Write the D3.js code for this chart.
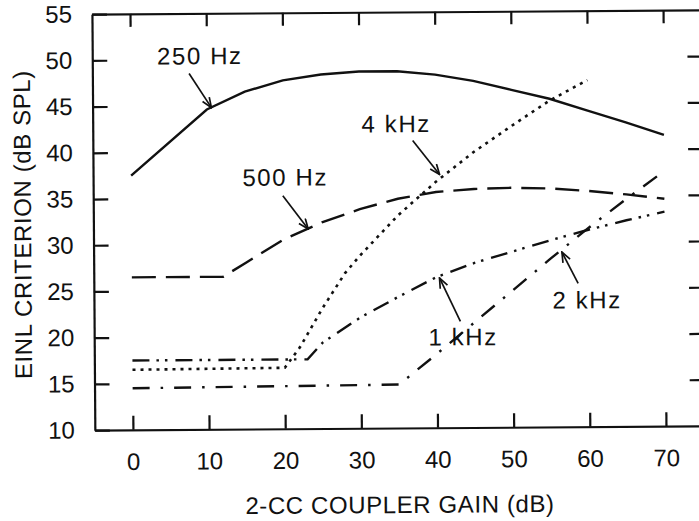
<!DOCTYPE html>
<html>
<head>
<meta charset="utf-8">
<script src="https://cdn.jsdelivr.net/npm/d3@7"></script>
<style>
  body { margin: 0; background: #fff; }
  text { font-family: "Liberation Sans", Arial, sans-serif; fill: #111; }
</style>
</head>
<body>
<svg id="chart" width="699" height="521"></svg>
<script>
// data: [coupler gain dB, EINL criterion dB SPL]
var hz250 = [[0,37.5],[10,44.6],[15,46.5],[20,47.7],[25,48.3],[30,48.6],[35,48.6],[40,48.2],[45,47.5],[50,46.5],[55,45.5],[60,44.2],[65,42.9],[70,41.5]];
var hz500 = [[0,26.5],[12,26.5],[15,28],[20,30.5],[25,32.3],[30,33.7],[35,34.8],[40,35.5],[45,35.8],[50,35.9],[55,35.8],[60,35.5],[65,35.1],[70,34.6]];
var khz4 = [[0,16.5],[20,16.6],[22,18.8],[25,23],[28,26.8],[30,28.7],[35,33],[40,36.6],[45,39.8],[50,42.6],[55,45.3],[60,47.5]];
var khz1 = [[0,17.5],[23,17.5],[25,19.3],[30,22],[35,24.2],[40,26.3],[45,27.8],[50,29],[55,30.2],[60,31.3],[65,32.3],[70,33.2]];
var khz2 = [[0,14.5],[35,14.7],[40,18],[45,21.4],[50,24.8],[55,28.2],[60,31.5],[65,34.6],[70,37.6]];

var xTicks = [0,10,20,30,40,50,60,70];
var yTicks = [10,15,20,25,30,35,40,45,50,55];

// label text, text anchor and arrow (tail -> head) in data units
var labels = [
  {text:'250 Hz', at:[3.5,49.5], from:[7.7,48.5], to:[10.6,44.8]},
  {text:'500 Hz', at:[14.6,36.3], from:[19.9,35.2], to:[23.2,31.6]},
  {text:'4 kHz', at:[30.3,42.0], from:[37,41.1], to:[40.5,37.4]},
  {text:'1 kHz', at:[38.9,18.9], from:[43.1,21.5], to:[40.4,26.2]},
  {text:'2 kHz', at:[55.2,22.8], from:[58.6,25.5], to:[56.5,28.9]}
];

var svg = d3.select('#chart');
var ink = '#111';

var x = d3.scaleLinear().domain([-5,75]).range([93.4,702.6]);
var y = d3.scaleLinear().domain([10,55]).range([428,12]);

// the scanned figure is tilted a little
var g = svg.append('g').attr('transform','rotate(-0.4,400,222)');

svg.append('defs').append('marker')
  .attr('id','arr')
  .attr('viewBox','0 0 12 10')
  .attr('refX',11).attr('refY',5)
  .attr('markerWidth',12).attr('markerHeight',10)
  .attr('markerUnits','userSpaceOnUse')
  .attr('orient','auto')
  .append('path')
  .attr('d','M1,1 L11,5 L1,9')
  .attr('fill','none').attr('stroke',ink).attr('stroke-width',1.7);

function styleAxis(sel){
  sel.select('.domain').attr('stroke',ink).attr('stroke-width',2.2);
  sel.selectAll('.tick line').attr('stroke',ink).attr('stroke-width',2.2);
  sel.selectAll('.tick text').attr('font-size',24).attr('fill',ink)
     .attr('font-family','"Liberation Sans", Arial, sans-serif');
}

g.append('g').attr('transform','translate(0,'+y(10)+')')
  .call(d3.axisBottom(x).tickValues(xTicks).tickSizeInner(-14).tickSizeOuter(0).tickPadding(23))
  .call(styleAxis);

g.append('g').attr('transform','translate('+x(-5)+',0)')
  .call(d3.axisLeft(y).tickValues(yTicks).tickSizeInner(-15).tickSizeOuter(0).tickPadding(20))
  .call(styleAxis);

g.append('g').attr('transform','translate(0,'+y(55)+')')
  .call(d3.axisTop(x).tickValues(xTicks).tickSizeInner(-13).tickSizeOuter(0).tickFormat(''))
  .call(styleAxis);

g.append('g').attr('transform','translate('+x(75)+',0)')
  .call(d3.axisRight(y).tickValues(yTicks.slice(1,-1)).tickSizeInner(-14).tickSizeOuter(0).tickFormat(''))
  .call(styleAxis);

// axis titles
g.append('text')
  .attr('x',398).attr('y',513)
  .attr('text-anchor','middle')
  .attr('font-size',24).attr('letter-spacing',0.6)
  .text('2-CC COUPLER GAIN (dB)');

g.append('text')
  .attr('transform','translate(31,222) rotate(-90)')
  .attr('text-anchor','middle')
  .attr('font-size',24).attr('letter-spacing',0.6)
  .text('EINL CRITERION (dB SPL)');

// curves
var line = d3.line().x(function(d){ return x(d[0]); }).y(function(d){ return y(d[1]); });

var series = [
  {data:hz250, dash:null, w:2.4},
  {data:hz500, dash:'24,10', w:2.4},
  {data:khz4, dash:'3,5', w:2.6},
  {data:khz1, dash:'17,7,2.5,6,2.5,8', w:2.4},
  {data:khz2, dash:'17,11,2.5,11', w:2.4}
];

g.append('g').selectAll('path')
  .data(series)
  .enter()
  .append('path')
  .attr('d',function(d){ return line(d.data); })
  .attr('fill','none')
  .attr('stroke',ink)
  .attr('stroke-width',function(d){ return d.w; })
  .attr('stroke-dasharray',function(d){ return d.dash; });

// labels with arrows
var lab = g.append('g');
lab.selectAll('text')
  .data(labels)
  .enter()
  .append('text')
  .attr('x',function(d){ return x(d.at[0]); })
  .attr('y',function(d){ return y(d.at[1]); })
  .attr('font-size',24)
  .attr('letter-spacing',1.6)
  .text(function(d){ return d.text; });

lab.selectAll('line')
  .data(labels)
  .enter()
  .append('line')
  .attr('x1',function(d){ return x(d.from[0]); })
  .attr('y1',function(d){ return y(d.from[1]); })
  .attr('x2',function(d){ return x(d.to[0]); })
  .attr('y2',function(d){ return y(d.to[1]); })
  .attr('stroke',ink)
  .attr('stroke-width',1.7)
  .attr('marker-end','url(#arr)');
</script>
</body>
</html>
